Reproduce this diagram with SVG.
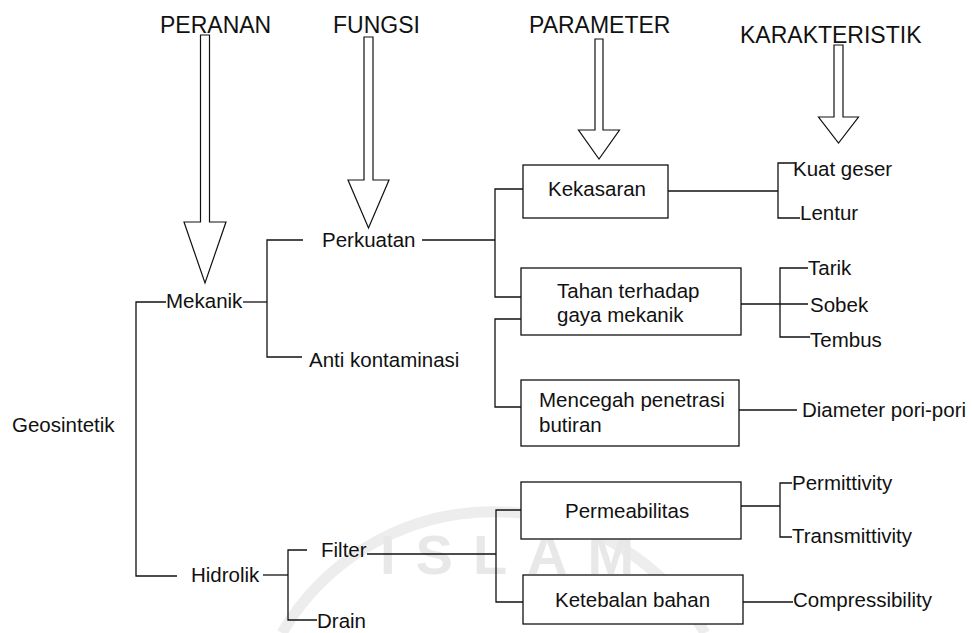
<svg xmlns="http://www.w3.org/2000/svg" width="972" height="633" viewBox="0 0 972 633">
<style>
text{font-family:"Liberation Sans",Arial,sans-serif;fill:#111;}
.h{font-size:23px;}
.t{font-size:20.5px;}
.ln{fill:none;stroke:#111;stroke-width:1.3;}
.box{fill:#fff;stroke:#111;stroke-width:1.3;}
.arr{fill:#fff;stroke:#111;stroke-width:1.2;stroke-linejoin:miter;}
.wm{fill:#e8e8e8;font-size:56px;font-weight:bold;letter-spacing:20px;}
.wmr{fill:none;stroke:#ededed;stroke-width:11;}
</style>
<rect width="972" height="633" fill="#fff"/>
<g id="watermark">
<path class="wmr" d="M282,633 A245,245 0 0 1 705,633"/>
<text class="wm" x="380" y="574">ISLAM</text>
</g>
<g id="connectors">
<path class="ln" d="M166,302 H136 V576 H177"/>
<path class="ln" d="M243,302 H267"/>
<path class="ln" d="M303,240 H267 V357 H302"/>
<path class="ln" d="M422,240 H495"/>
<path class="ln" d="M523,189 H495 V297 H521"/>
<path class="ln" d="M521,319 H495 V407 H521"/>
<path class="ln" d="M668,191 H778"/>
<path class="ln" d="M795,163 H778 V218 H800"/>
<path class="ln" d="M741,304 H808"/>
<path class="ln" d="M808,268 H780 V337 H810"/>
<path class="ln" d="M739,410 H797"/>
<path class="ln" d="M263,575 H288"/>
<path class="ln" d="M307,550 H288 V620 H317"/>
<path class="ln" d="M367,554 H496"/>
<path class="ln" d="M521,510 H496 V602 H523"/>
<path class="ln" d="M741,506 H780"/>
<path class="ln" d="M792,483 H780 V537 H792"/>
<path class="ln" d="M743,602 H793"/>
</g>
<g id="header-peranan">
<text class="h" x="160" y="33">PERANAN</text>
<polygon class="arr" points="200.5,35 209.5,35 209.5,222 226,222 205,283 184,222 200.5,222"/>
</g>
<g id="header-fungsi">
<text class="h" x="333" y="33">FUNGSI</text>
<polygon class="arr" points="364,37 373,37 373,180 389,180 368.5,228 348,180 364,180"/>
</g>
<g id="header-parameter">
<text class="h" x="529" y="33">PARAMETER</text>
<polygon class="arr" points="595,39 603,39 603,130 619.5,130 599,159 578.5,130 595,130"/>
</g>
<g id="header-karakteristik">
<text class="h" x="740" y="43">KARAKTERISTIK</text>
<polygon class="arr" points="834,45 843,45 843,117 858.5,117 838.5,143 818.5,117 834,117"/>
</g>
<g id="geosintetik"><text class="t" x="12" y="432">Geosintetik</text></g>
<g id="mekanik"><text class="t" x="166" y="308">Mekanik</text></g>
<g id="hidrolik"><text class="t" x="191" y="582">Hidrolik</text></g>
<g id="perkuatan"><text class="t" x="322" y="247">Perkuatan</text></g>
<g id="anti-kontaminasi"><text class="t" x="309" y="367">Anti kontaminasi</text></g>
<g id="filter"><text class="t" x="321" y="557">Filter</text></g>
<g id="drain"><text class="t" x="317" y="628">Drain</text></g>
<g id="kekasaran">
<rect class="box" x="523" y="165" width="145" height="53"/>
<text class="t" x="548" y="196">Kekasaran</text>
</g>
<g id="tahan">
<rect class="box" x="521" y="268" width="220" height="67"/>
<text class="t" x="557" y="298">Tahan terhadap</text>
<text class="t" x="557" y="322">gaya mekanik</text>
</g>
<g id="mencegah">
<rect class="box" x="521" y="380" width="218" height="66"/>
<text class="t" x="539" y="407">Mencegah penetrasi</text>
<text class="t" x="539" y="432">butiran</text>
</g>
<g id="permeabilitas">
<rect class="box" x="521" y="482" width="220" height="57"/>
<text class="t" x="565" y="518">Permeabilitas</text>
</g>
<g id="ketebalan">
<rect class="box" x="523" y="575" width="220" height="49"/>
<text class="t" x="555" y="607">Ketebalan bahan</text>
</g>
<g id="kuat-geser"><text class="t" x="793" y="176">Kuat geser</text></g>
<g id="lentur"><text class="t" x="800" y="220">Lentur</text></g>
<g id="tarik"><text class="t" x="808" y="275">Tarik</text></g>
<g id="sobek"><text class="t" x="810" y="312">Sobek</text></g>
<g id="tembus"><text class="t" x="810" y="347">Tembus</text></g>
<g id="diameter"><text class="t" x="802" y="417">Diameter pori-pori</text></g>
<g id="permittivity"><text class="t" x="792" y="490">Permittivity</text></g>
<g id="transmittivity"><text class="t" x="792" y="543">Transmittivity</text></g>
<g id="compressibility"><text class="t" x="793" y="607">Compressibility</text></g>
</svg>
